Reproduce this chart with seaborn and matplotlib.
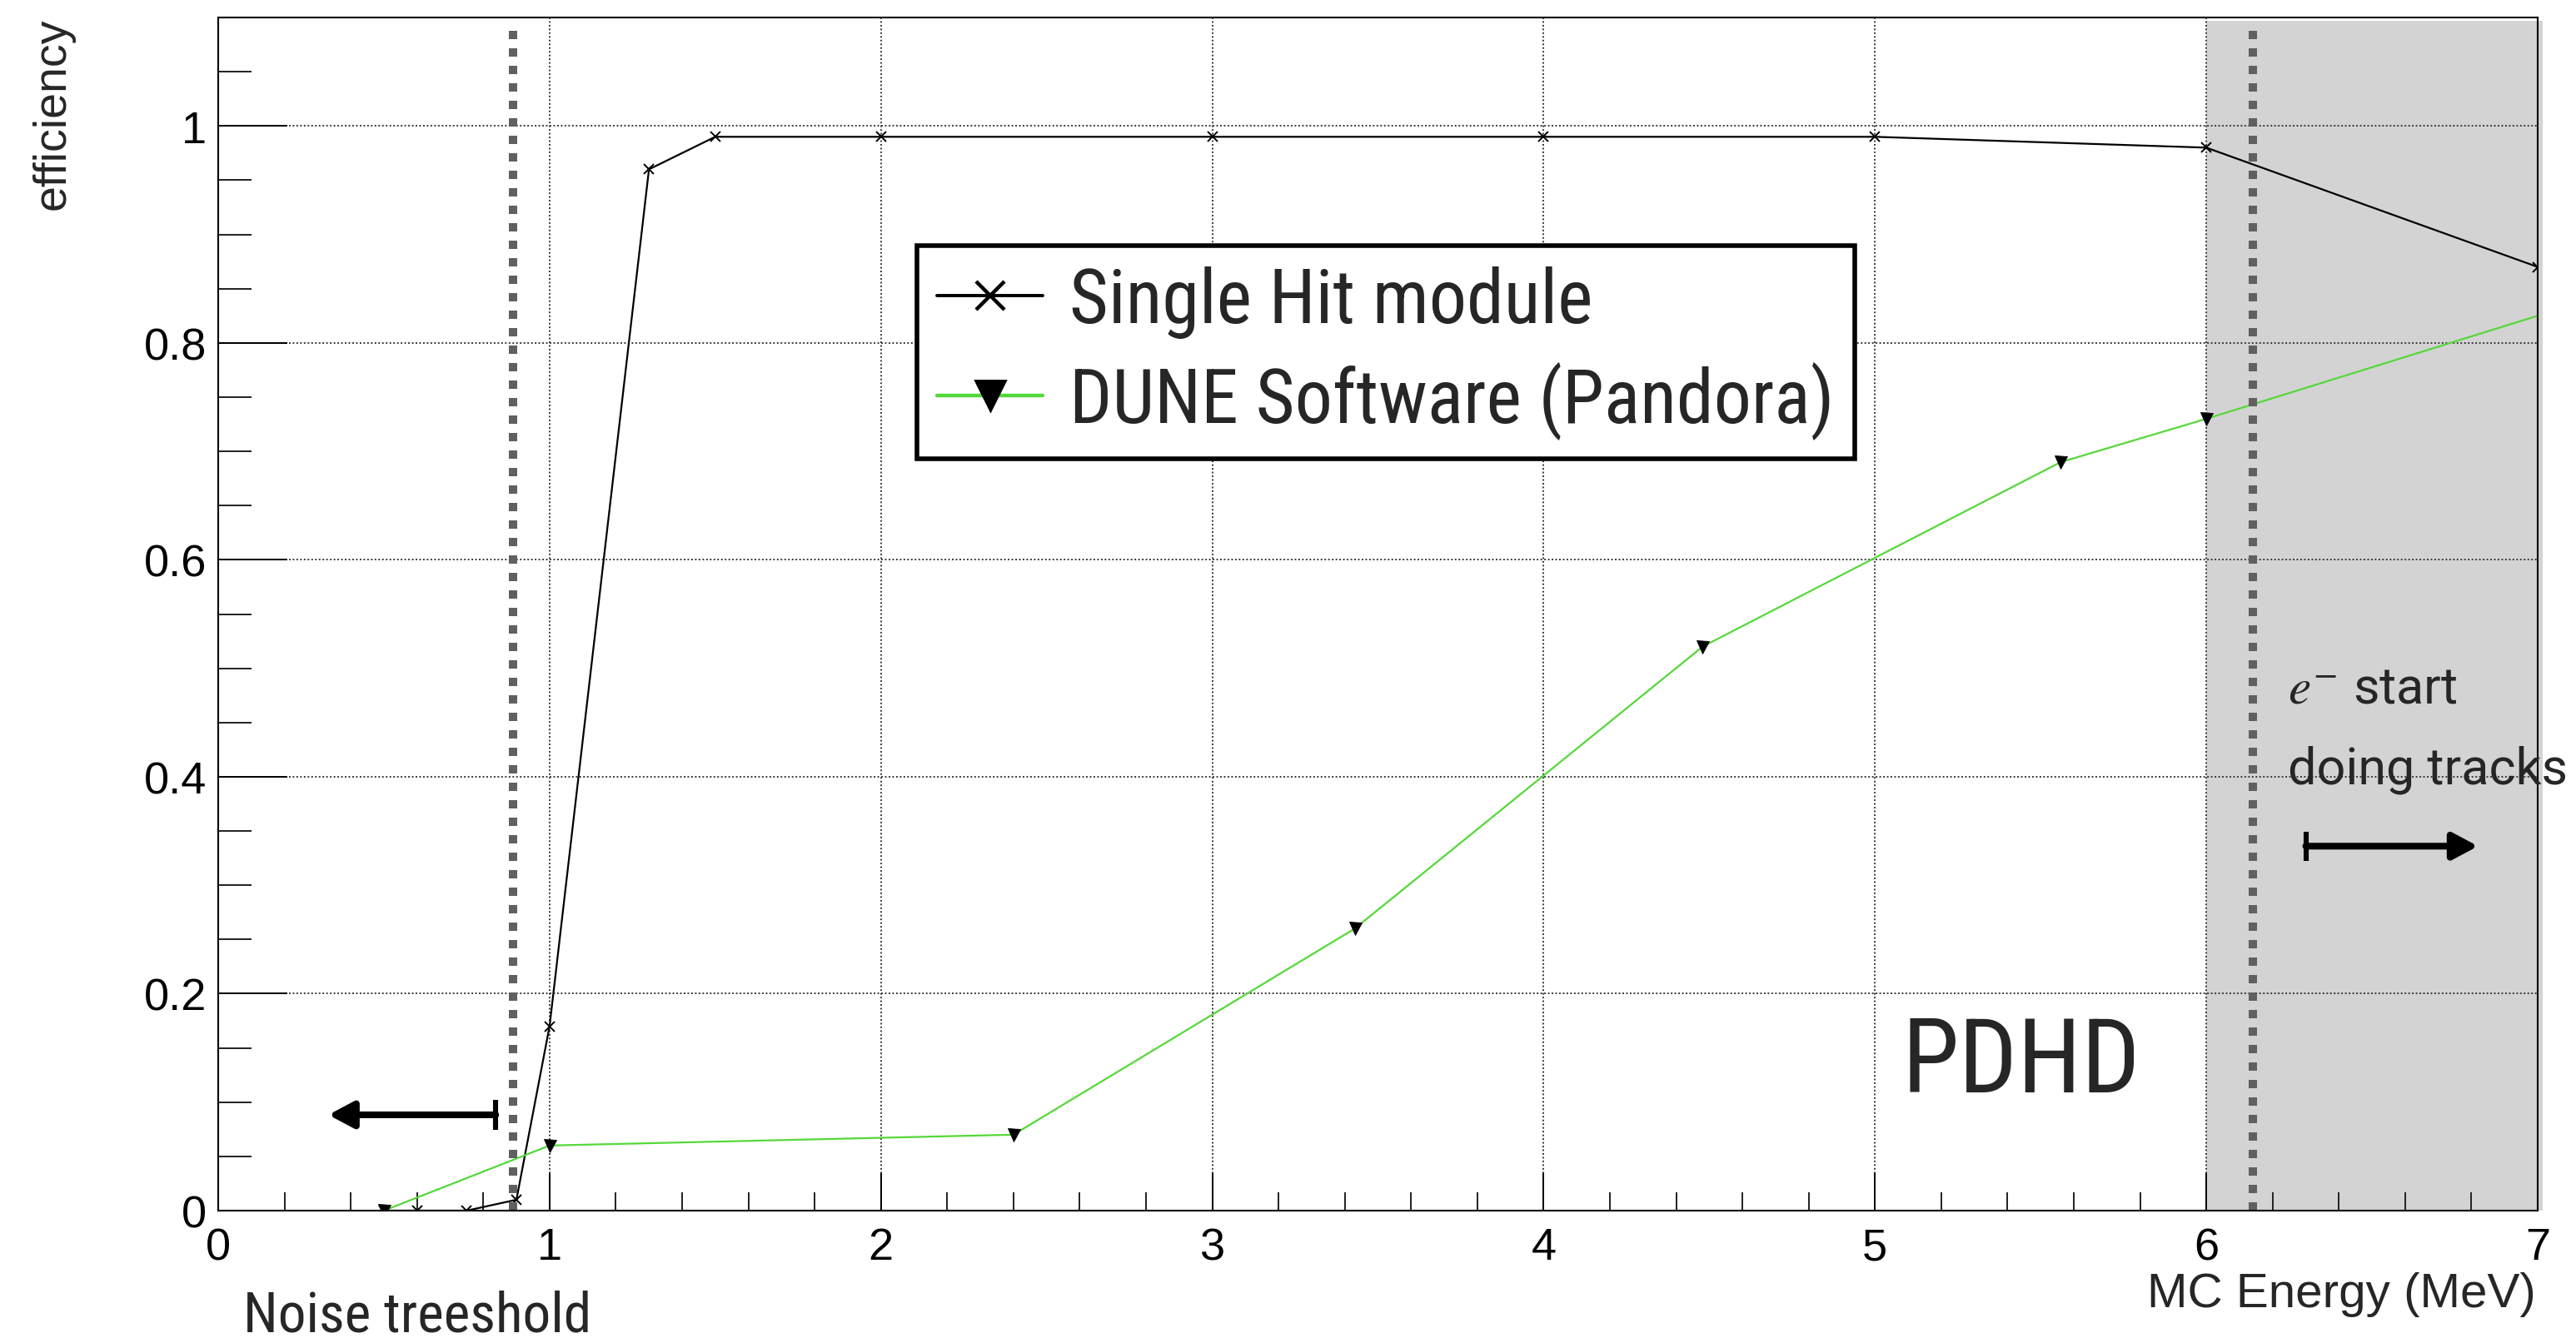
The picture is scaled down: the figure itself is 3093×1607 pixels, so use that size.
import matplotlib
matplotlib.use("Agg")
import matplotlib.pyplot as plt
import seaborn as sns
import pandas as pd
from matplotlib import font_manager
from matplotlib.ticker import MultipleLocator, FuncFormatter
from matplotlib.patches import Rectangle
from matplotlib.lines import Line2D

# ---------------- data ----------------
shm_energy = [0.5, 0.6, 0.75, 0.9, 1.0, 1.3, 1.5, 2.0, 3.0, 4.0, 5.0, 6.0, 7.0]
shm_eff = [0.0, 0.0, 0.0, 0.01, 0.17, 0.96, 0.99, 0.99, 0.99, 0.99, 0.99, 0.98, 0.87]

pandora_energy = [0.5, 1.0, 2.4, 3.43, 4.48, 5.56, 6.0, 7.0]
pandora_eff = [0.0, 0.06, 0.07, 0.26, 0.52, 0.69, 0.73, 0.825]

series_labels = ["Single Hit module", "DUNE Software (Pandora)"]

noise_threshold = 0.89
track_line = 6.14
track_region = (6.0, 7.0)

x_ticks = [0, 1, 2, 3, 4, 5, 6, 7]
y_ticks = [0, 0.2, 0.4, 0.6, 0.8, 1.0]

noise_arrow = dict(start=0.8375, end=0.3325, y=0.0883)
track_arrow = dict(start=6.30, end=6.82, y=0.336)

# ---------------- style ----------------
sns.set_style("ticks")
plt.rcParams["font.family"] = ["Liberation Sans", "DejaVu Sans"]
plt.rcParams["mathtext.fontset"] = "stix"
GREEN = "#55d839"

# choose a narrow font if one is installed, otherwise shrink regular font
_names = {f.name for f in font_manager.fontManager.ttflist}
if "Liberation Sans Narrow" in _names:
    NARROW, NSCALE = ["Liberation Sans Narrow", "DejaVu Sans"], 1.0
elif "Roboto Condensed" in _names:
    NARROW, NSCALE = ["Roboto Condensed", "DejaVu Sans"], 0.97
else:
    NARROW, NSCALE = ["Liberation Sans", "DejaVu Sans"], 0.88

W, H, DPI = 3093, 1608, 200
fig = plt.figure(figsize=(W / DPI, H / DPI), dpi=DPI)
ax = fig.add_axes([262 / W, 1 - 1455 / H, 2785 / W, 1433 / H])

df_shm = pd.DataFrame({"energy": shm_energy, "eff": shm_eff})
df_pan = pd.DataFrame({"energy": pandora_energy, "eff": pandora_eff})

sns.lineplot(data=df_shm, x="energy", y="eff", ax=ax, color="black", lw=0.8,
             marker="x", markersize=4.5, markeredgewidth=0.7,
             markeredgecolor="black", estimator=None, sort=False, zorder=2)
sns.lineplot(data=df_pan, x="energy", y="eff", ax=ax, color=GREEN, lw=0.8,
             marker="v", markersize=5.4, markerfacecolor="black",
             markeredgecolor="black", markeredgewidth=0.3,
             markevery=list(range(len(pandora_energy) - 1)),
             estimator=None, sort=False, zorder=2)

ax.set_xlim(x_ticks[0], x_ticks[-1])
ax.set_ylim(0, 1.1)

# shaded region (e- tracks)
ax.add_patch(Rectangle((track_region[0], 0), track_region[1] - track_region[0] + 0.015,
                       1.097, facecolor="#d3d3d3", edgecolor="none",
                       zorder=0.2, clip_on=False))

# grid
ax.set_axisbelow(True)
ax.grid(True, which="major", color="#3a3a3a", linestyle=(0, (1, 1.3)), linewidth=0.7)

# threshold lines
for xv in (noise_threshold, track_line):
    ax.axvline(xv, ymin=0, ymax=1.09 / 1.1, color="#606060", linewidth=3.6,
               dashes=(1, 1.1), dash_capstyle="butt", zorder=3)

# ticks
ax.xaxis.set_minor_locator(MultipleLocator(0.2))
ax.yaxis.set_minor_locator(MultipleLocator(0.05))
ax.set_xticks(x_ticks)
ax.set_yticks(y_ticks)
ax.xaxis.set_major_formatter(FuncFormatter(lambda v, _: f"{v:g}"))
ax.yaxis.set_major_formatter(FuncFormatter(lambda v, _: f"{v:g}"))
ax.tick_params(axis="x", which="major", direction="in", length=16.2, width=0.72,
               pad=7, labelsize=19.5, colors="black")
ax.tick_params(axis="x", which="minor", direction="in", length=8, width=0.72)
ax.tick_params(axis="y", which="major", direction="in", length=30, width=0.72,
               pad=5, labelsize=19.5, colors="black")
ax.tick_params(axis="y", which="minor", direction="in", length=14.5, width=0.72)
for s in ax.spines.values():
    s.set_visible(True)
    s.set_linewidth(0.75)
    s.set_color("black")
    s.set_zorder(4)
ax.set_xlabel("")
ax.set_ylabel("")

# arrows
def bar_arrow(spec, dy=0.0135):
    ax.annotate("", xy=(spec["end"], spec["y"]), xytext=(spec["start"], spec["y"]),
                arrowprops=dict(arrowstyle="-|>,head_length=9,head_width=4.8",
                                mutation_scale=1, lw=2.9, color="black",
                                shrinkA=0, shrinkB=0),
                annotation_clip=False, zorder=5)
    ax.plot([spec["start"], spec["start"]], [spec["y"] - dy, spec["y"] + dy],
            color="black", lw=2.2, solid_capstyle="butt", clip_on=False, zorder=5)

bar_arrow(noise_arrow)
bar_arrow(track_arrow)

# texts
ax.text(5.44, 0.11, "PDHD", ha="center", va="baseline", fontsize=46 * NSCALE,
        family=NARROW)
ax.text(6.245, 0.4685, r"$e^{-}$ start", ha="left", va="baseline", fontsize=22,
        family=["Roboto", "DejaVu Sans"], clip_on=False, zorder=6)
ax.text(6.245, 0.394, "doing tracks", ha="left", va="baseline", fontsize=22,
        family=["Roboto", "DejaVu Sans"], clip_on=False, zorder=6)
fig.text(292 / W, 1 - 1600 / H, "Noise treeshold", ha="left", va="baseline",
         fontsize=25 * NSCALE, family=NARROW)
fig.text(3045 / W, 1 - 1570 / H, "MC Energy (MeV)", ha="right", va="baseline",
         fontsize=21)
fig.text(90 / W, 1 - 22 / H, "efficiency", rotation=90, ha="right", va="top",
         fontsize=20)

# legend
handles = [
    Line2D([], [], color="black", lw=1.4, marker="x", markersize=12,
           markeredgewidth=1.6, markeredgecolor="black"),
    Line2D([], [], color=GREEN, lw=1.6, marker="v", markersize=13,
           markerfacecolor="black", markeredgecolor="black"),
]
leg = ax.legend(handles, series_labels, loc="center",
                bbox_to_anchor=(1664 / W, 1 - 424 / H), bbox_transform=fig.transFigure,
                frameon=True, fancybox=False, framealpha=1, edgecolor="black",
                borderpad=0.27, handlelength=1.4, handletextpad=0.36,
                labelspacing=0.3, borderaxespad=0,
                prop=dict(family=NARROW, size=33.5 * NSCALE))
leg.get_frame().set_linewidth(2.0)
leg.set_zorder(7)

fig.savefig("out.png", dpi=DPI)
